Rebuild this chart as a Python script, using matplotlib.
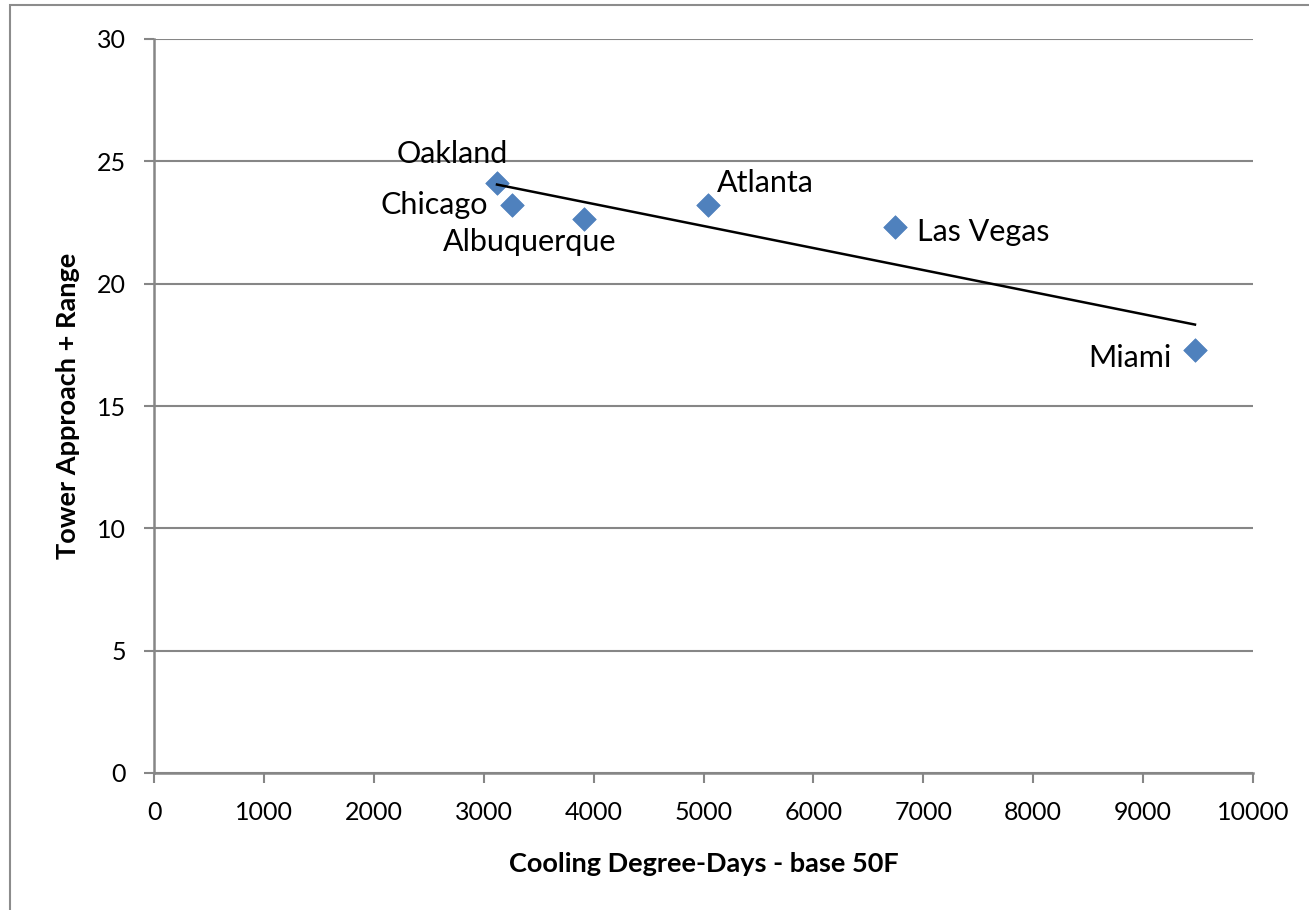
import numpy as np
import matplotlib.pyplot as plt
from matplotlib.patches import Rectangle

plt.rcParams['font.family'] = ['Lato', 'DejaVu Sans']

# Cooling degree-days vs. tower approach + range, by city
cities = ['Oakland', 'Chicago', 'Albuquerque', 'Atlanta', 'Las Vegas', 'Miami']
cdd = [3121, 3258, 3913, 5041, 6743, 9472]
approach_range = [24.1, 23.2, 22.65, 23.2, 22.3, 17.3]

x_ticks = list(range(0, 10001, 1000))
y_ticks = [0, 5, 10, 15, 20, 25, 30]

# label offsets in pixels (dx, dy) and alignment per city
label_pos = {
    'Oakland': ((-45, 29), 'center', 'center'),
    'Chicago': ((-24, 0), 'right', 'center'),
    'Albuquerque': ((-54, -23), 'center', 'center'),
    'Atlanta': ((9, 22), 'left', 'center'),
    'Las Vegas': ((22, -5), 'left', 'center'),
    'Miami': ((-23, -8), 'right', 'center'),
}

grey = '#868686'
blue = '#4F81BD'

fig = plt.figure(figsize=(13.09, 9.10), dpi=100)
ax = fig.add_axes([154 / 1309, 1 - 773 / 910, 1099 / 1309, 734 / 910])

# chart area border
fig.patches.append(Rectangle((10 / 1309, -0.1), 1.2, (905 / 910) + 0.1,
                             transform=fig.transFigure, fill=False,
                             edgecolor='#8c8c8c', linewidth=1.5))

ax.scatter(cdd, approach_range, marker='D', s=12 ** 2, color=blue,
           edgecolors='#4A7EBB', linewidths=0.5, zorder=3)

# linear trendline over the data range
slope, intercept = np.polyfit(cdd, approach_range, 1)
xs = np.array([min(cdd), max(cdd)])
ax.plot(xs, slope * xs + intercept, color='black', linewidth=1.8, zorder=4)

for name, x, y in zip(cities, cdd, approach_range):
    (dx, dy), ha, va = label_pos[name]
    ax.annotate(name, (x, y), xytext=(dx, dy), textcoords='offset pixels',
                ha=ha, va=va, fontsize=22, color='black', zorder=5)

ax.set_xlim(0, 10000)
ax.set_ylim(0, 30)
ax.set_xticks(x_ticks)
ax.set_yticks(y_ticks)
ax.tick_params(axis='both', labelsize=18, colors=grey, labelcolor='black',
               length=7, width=1.5, direction='out')
ax.tick_params(axis='x', pad=13)
ax.tick_params(axis='y', pad=13)

ax.grid(axis='y', color=grey, linewidth=1.5)
ax.set_axisbelow(True)
for side in ['top', 'right']:
    ax.spines[side].set_visible(False)
for side in ['left', 'bottom']:
    ax.spines[side].set_color(grey)
    ax.spines[side].set_linewidth(1.8)

ax.set_xlabel('Cooling Degree-Days - base 50F', fontsize=19.5, fontweight='bold',
              labelpad=20)
ax.set_ylabel('Tower Approach + Range', fontsize=19.5, fontweight='bold',
              labelpad=12)

fig.savefig('out.png', dpi=100)
